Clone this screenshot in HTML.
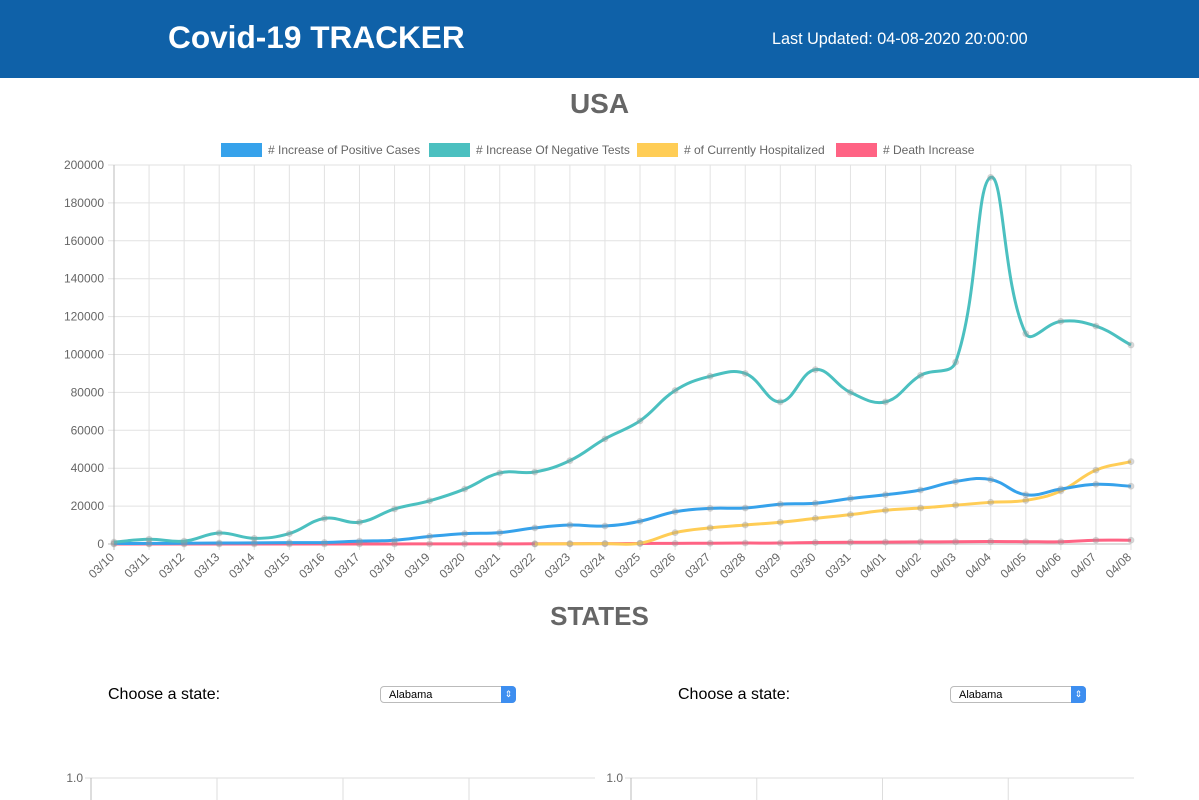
<!DOCTYPE html>
<html><head><meta charset="utf-8"><style>
body{margin:0;width:1199px;height:800px;overflow:hidden;background:#fff;font-family:"Liberation Sans",Arial,sans-serif;position:relative}
.hdr{position:absolute;left:0;top:0;width:1199px;height:78px;background:#0f61a8}
.ttl{position:absolute;left:168px;top:19px;color:#fff;font-weight:bold;font-size:31.6px}
.upd{position:absolute;left:772px;top:30px;color:#fff;font-size:16.2px}
.h2{position:absolute;width:1199px;text-align:center;color:#666;font-weight:bold;font-size:28px}
.lbl{position:absolute;font-size:16px;color:#000}
.sel{position:absolute;width:136px;height:17px;border:1px solid #bbb;border-radius:4px;background:#fff;font-size:11px;line-height:17px;box-sizing:border-box;padding-left:8px}
.sel span{position:absolute;right:-1px;top:-1px;width:15px;height:17px;background:#3d8ef0;border-radius:0 4px 4px 0;color:#fff;font-size:9px;text-align:center;line-height:17px}
</style></head><body>
<div class="hdr">
<div class="ttl">Covid-19 TRACKER</div>
<div class="upd">Last Updated: 04-08-2020 20:00:00</div>
</div>
<div class="h2" style="top:88px">USA</div>
<svg id="chart" width="1199" height="800" style="position:absolute;left:0;top:0"></svg>
<div class="h2" style="top:601px;font-size:26px">STATES</div>
<div class="lbl" style="left:108px;top:686px">Choose a state:</div>
<div class="sel" style="left:380px;top:686px">Alabama<span>⇕</span></div>
<div class="lbl" style="left:678px;top:686px">Choose a state:</div>
<div class="sel" style="left:950px;top:686px">Alabama<span>⇕</span></div>
<script>
const labels=["03/10","03/11","03/12","03/13","03/14","03/15","03/16","03/17","03/18","03/19","03/20","03/21","03/22","03/23","03/24","03/25","03/26","03/27","03/28","03/29","03/30","03/31","04/01","04/02","04/03","04/04","04/05","04/06","04/07","04/08"];
const positive=[300,300,400,500,600,700,800,1500,2000,4000,5500,6000,8500,10000,9500,12000,17000,18800,19000,21000,21500,24000,26000,28500,33000,34000,26000,29000,31500,30500];
const negative=[1000,2500,1500,5800,3000,5500,13500,11500,18500,22800,29000,37500,38000,44000,55500,65000,81000,88500,90000,75000,92000,80000,75000,89000,96000,193500,111000,117500,115000,105000];
const hospitalized=[null,null,null,null,null,null,null,null,null,null,null,null,0,100,200,400,6000,8500,10000,11500,13500,15500,17800,19000,20500,22000,23000,28000,39000,43500];
const deaths=[5,5,10,10,10,15,20,25,30,50,60,50,100,150,200,250,350,400,500,500,800,900,1000,1100,1200,1300,1200,1200,2000,2000];
const yTicks=[0,20000,40000,60000,80000,100000,120000,140000,160000,180000,200000];
const seriesNames=["# Increase of Positive Cases","# Increase Of Negative Tests","# of Currently Hospitalized","# Death Increase"];
const colors=["#36a2eb","#4bc0c0","#ffcd56","#ff6384"];
const svg=document.getElementById('chart');const NS="http://www.w3.org/2000/svg";
function mk(t,a,p){const e=document.createElementNS(NS,t);for(const k in a)e.setAttribute(k,a[k]);(p||svg).appendChild(e);return e;}
const X0=114,X1=1131,Y0=544,Y1=165;
const xs=i=>X0+(X1-X0)*i/(labels.length-1);
const ys=v=>Y0-(Y0-Y1)*v/200000;
yTicks.forEach(v=>{const g=mk('line',{x1:X0-6,x2:X1,y1:ys(v),y2:ys(v),stroke:v===0?'#bbb':'#e2e2e2'});

const t=mk('text',{x:X0-10,y:ys(v)+4,'text-anchor':'end','font-size':12,fill:'#666'});t.textContent=v;
});
labels.forEach((l,i)=>{const g=mk('line',{x1:xs(i),x2:xs(i),y1:Y1,y2:Y0+6,stroke:i===0?'#bbb':'#e2e2e2'});

const t=mk('text',{x:xs(i)+1,y:Y0+14,'text-anchor':'end','font-size':12,fill:'#666',transform:`rotate(-44 ${xs(i)+1} ${Y0+14})`});t.textContent=l;
});
function curve(vals){const pts=[];vals.forEach((v,i)=>{if(v!==null)pts.push([xs(i),ys(v)]);});
let d=`M${pts[0][0]},${pts[0][1]}`;const T=0.4;const cps=pts.map((p,i)=>{const a=pts[Math.max(0,i-1)],c=pts[Math.min(pts.length-1,i+1)];
const d01=Math.hypot(p[0]-a[0],p[1]-a[1]),d12=Math.hypot(c[0]-p[0],c[1]-p[1]);let fa=d01/(d01+d12)||0,fb=d12/(d01+d12)||0;fa*=T;fb*=T;
return {p:[p[0]-fa*(c[0]-a[0]),p[1]-fa*(c[1]-a[1])],n:[p[0]+fb*(c[0]-a[0]),p[1]+fb*(c[1]-a[1])]};});
for(let i=1;i<pts.length;i++){d+=` C${cps[i-1].n[0]},${cps[i-1].n[1]} ${cps[i].p[0]},${cps[i].p[1]} ${pts[i][0]},${pts[i][1]}`;}return {d,pts};}
[[deaths,3],[hospitalized,2],[positive,0],[negative,1]].forEach(([vals,ci])=>{const c=curve(vals);
const p=mk('path',{d:c.d,fill:'none',stroke:colors[ci],'stroke-width':3});

c.pts.forEach(q=>{const m=mk('circle',{cx:q[0],cy:q[1],r:3,fill:'rgba(150,150,150,0.35)',stroke:'rgba(150,150,150,0.25)'});
});});
const lx=[221,429,637,836];
seriesNames.forEach((n,i)=>{const r=mk('rect',{x:lx[i],y:143,width:41,height:14,fill:colors[i]});

const t=mk('text',{x:lx[i]+47,y:154,'font-size':12,fill:'#666'});t.textContent=n;
});
[[91,595],[631,1134]].forEach(([a,r])=>{
const t=mk('text',{x:a-8,y:782,'text-anchor':'end','font-size':12,fill:'#666'});t.textContent='1.0';

const h=mk('line',{x1:a-6,x2:r,y1:778,y2:778,stroke:'#ddd'});
for(let j=0;j<4;j++){const x=a+(r-a)*j/4;const v=mk('line',{x1:x,x2:x,y1:778,y2:800,stroke:j===0?'#bbb':'#ddd'});
}});
</script>
</body></html>
